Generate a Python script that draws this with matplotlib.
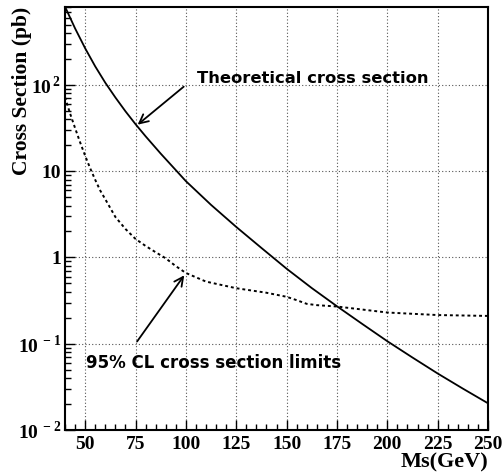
import numpy as np
import matplotlib
matplotlib.use("Agg")
import matplotlib.pyplot as plt
import matplotlib.ticker as ticker

plt.rcParams['mathtext.fontset'] = 'custom'
plt.rcParams['mathtext.rm'] = 'Liberation Serif:bold'
plt.rcParams['mathtext.bf'] = 'Liberation Serif:bold'

# theoretical cross section (pb) vs Ms (GeV)
ms_theory = [40, 45, 50, 55, 60, 65, 70, 75, 80, 87.5, 100, 112.5, 125, 137.5,
             150, 162.5, 175, 187.5, 200, 212.5, 225, 237.5, 250]
xs_theory = [808, 452, 266, 164, 106, 71.6, 49.5, 35.1, 25.4, 16.0, 7.67, 4.07,
             2.26, 1.29, 0.741, 0.442, 0.272, 0.170, 0.107, 0.0692, 0.0452,
             0.0302, 0.0204]

# 95% CL cross section limits
ms_limit = [40, 42.5, 45, 47.5, 50, 52.5, 55, 57.5, 60, 65, 70, 75, 80, 85, 90,
            95, 100, 110, 125, 140, 150, 155, 160, 165, 175, 200, 225, 250]
xs_limit = [72, 46.8, 31.6, 21.6, 15.1, 10.8, 7.94, 5.96, 4.73, 2.95, 2.14, 1.64,
            1.36, 1.15, 0.977, 0.794, 0.661, 0.525, 0.44, 0.39, 0.35, 0.32, 0.29,
            0.28, 0.27, 0.23, 0.215, 0.21]

x_ticks = [50, 75, 100, 125, 150, 175, 200, 225, 250]
y_ticks = [0.01, 0.1, 1, 10, 100]
y_labels = [r'$10^{\,-2}$', r'$10^{\,-1}$', '1', '10', r'$10^{\,2}$']

fig = plt.figure(figsize=(5.03, 4.75), dpi=100)
ax = fig.add_axes([65 / 503, 45 / 475, 423 / 503, 423 / 475])

ax.plot(ms_theory, xs_theory, color='black', lw=1.3)
ax.plot(ms_limit, xs_limit, color='black', lw=1.4, ls=(0, (1.5, 1.5)))

ax.set_yscale('log')
ax.set_xlim(40, 250)
ax.set_ylim(0.01, 800)

ax.set_xticks(x_ticks)
ax.xaxis.set_minor_locator(ticker.MultipleLocator(5))
ax.set_yticks(y_ticks)
ax.set_yticklabels(y_labels)
ax.yaxis.set_minor_locator(ticker.LogLocator(base=10, subs=np.arange(2, 10)))
ax.yaxis.set_minor_formatter(ticker.NullFormatter())

ax.tick_params(which='both', direction='in', top=False, right=False)
ax.tick_params(which='major', length=7, width=1)
ax.tick_params(which='minor', length=4, width=1)
for lab in ax.get_xticklabels() + ax.get_yticklabels():
    lab.set_fontfamily('Liberation Serif')
    lab.set_fontweight('bold')
    lab.set_fontsize(14)
ax.tick_params(axis='x', pad=4)
ax.tick_params(axis='y', pad=3)

ax.grid(True, which='major', color='#555555', ls=(0, (1, 2)), lw=0.8)
for s in ax.spines.values():
    s.set_linewidth(1.5)

fig.text(22 / 503, 468 / 475, 'Cross Section (pb)', rotation=90,
         ha='center', va='top', fontfamily='Liberation Serif',
         fontweight='bold', fontsize=15.5)
ax.set_xlabel('Ms(GeV)', fontfamily='Liberation Serif', fontweight='bold',
              fontsize=16, loc='right', labelpad=0)

ax.annotate('', xy=(75, 33), xytext=(100, 100),
            arrowprops=dict(arrowstyle='->', color='black', lw=1.3,
                            mutation_scale=16))
ax.text(105.5, 118, 'Theoretical cross section', fontfamily='DejaVu Sans',
        fontweight='bold', fontsize=11.8, va='center', ha='left')

ax.annotate('', xy=(100, 0.66), xytext=(75, 0.1),
            arrowprops=dict(arrowstyle='->', color='black', lw=1.3,
                            mutation_scale=16))
ax.text(50.5, 0.059, '95% CL cross section limits', fontfamily='DejaVu Sans',
        fontweight='bold', fontsize=12, va='center', ha='left')

fig.savefig('out.png', dpi=100)
